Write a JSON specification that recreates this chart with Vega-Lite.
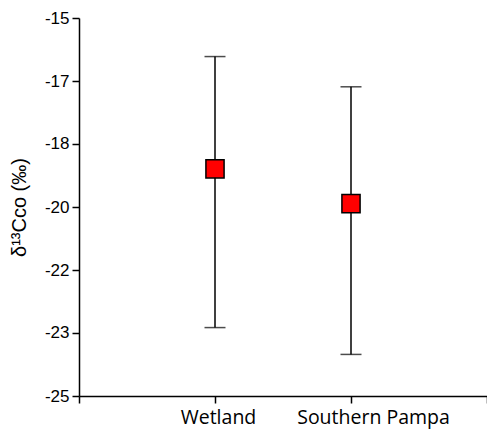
{
  "$schema": "https://vega.github.io/schema/vega-lite/v6.json",
  "autosize": "none",
  "width": 408,
  "height": 378,
  "padding": {"left": 79, "top": 18, "right": 0, "bottom": 36},
  "background": "white",
  "config": {"view": {"stroke": null}},
  "data": {"values": [
    {"pos": 1, "site": "Wetland", "mean": -18.99, "lo": -23.19, "hi": -16.02},
    {"pos": 2, "site": "Southern Pampa", "mean": -19.91, "lo": -23.9, "hi": -16.82}
  ]},
  "layer": [
    {
      "mark": {"type": "rule", "color": "black", "strokeWidth": 1.5},
      "encoding": {
        "x": {"field": "pos", "type": "quantitative",
          "scale": {"domain": [0, 3], "nice": false, "zero": false},
          "axis": {"values": [0, 1, 2, 3], "labelExpr": "datum.value == 1 ? 'Wetland' : datum.value == 2 ? 'Southern Pampa' : ''",
            "labelOffset": {"condition": {"test": "datum.value == 2", "value": 22}, "value": 3},
            "title": null, "grid": false, "domainColor": "black", "domainWidth": 1.5, "tickColor": "black", "tickWidth": 1.5, "tickSize": 7,
            "labelFont": "Open Sans", "labelFontSize": 19.5, "labelColor": "black", "labelPadding": 5, "labelFlush": false}},
        "y": {"field": "lo", "type": "quantitative",
          "scale": {"domain": [-25, -15], "nice": false, "zero": false},
          "axis": {"values": [-25, -23.3333, -21.6667, -20, -18.3333, -16.6667, -15], "labelExpr": "'-' + format(-datum.value, '.0f')",
            "title": "δ¹³Cco (‰)", "titleFont": "Liberation Sans", "titleFontSize": 20, "titleFontWeight": "normal", "titleColor": "black", "titlePadding": 15,
            "grid": false, "domainColor": "black", "domainWidth": 1.5, "tickColor": "black", "tickWidth": 1.5, "tickSize": 7,
            "labelFont": "Liberation Sans", "labelFontSize": 17, "labelColor": "black", "labelPadding": 3}},
        "y2": {"field": "hi"}
      }
    },
    {
      "mark": {"type": "tick", "color": "black", "orient": "horizontal", "size": 21, "thickness": 1.5},
      "encoding": {
        "x": {"field": "pos", "type": "quantitative"},
        "y": {"field": "lo", "type": "quantitative"}
      }
    },
    {
      "mark": {"type": "tick", "color": "black", "orient": "horizontal", "size": 21, "thickness": 1.5},
      "encoding": {
        "x": {"field": "pos", "type": "quantitative"},
        "y": {"field": "hi", "type": "quantitative"}
      }
    },
    {
      "mark": {"type": "square", "filled": true, "fill": "#ff0000", "stroke": "black", "strokeWidth": 1.5, "opacity": 1, "size": 330},
      "encoding": {
        "x": {"field": "pos", "type": "quantitative"},
        "y": {"field": "mean", "type": "quantitative"}
      }
    }
  ]
}
